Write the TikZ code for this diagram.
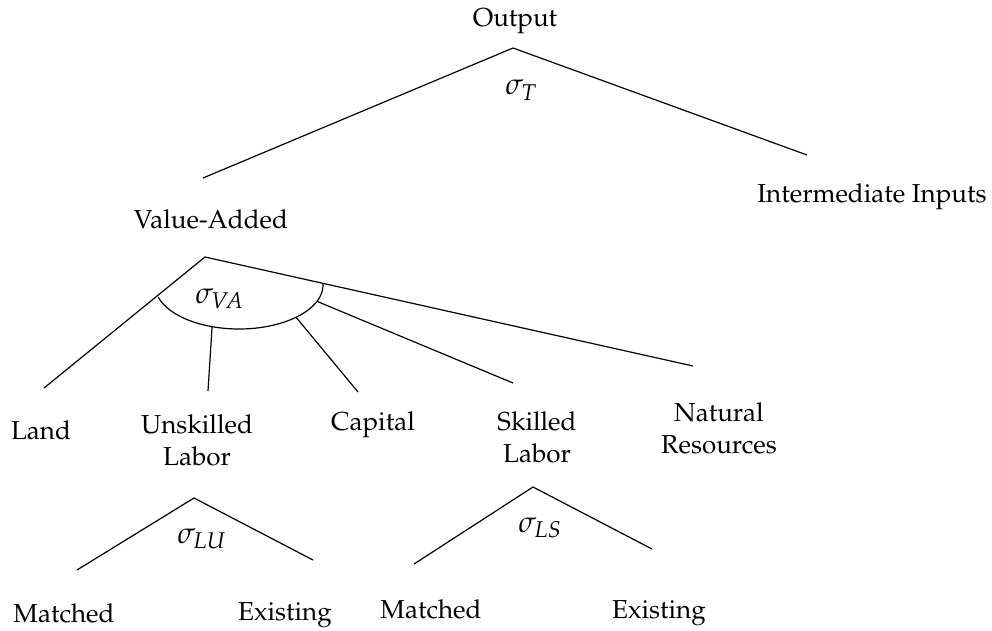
\documentclass[tikz,border=0pt]{standalone}
\usepackage[T1]{fontenc}
\usepackage{mathpazo}
\begin{document}
\begin{tikzpicture}[x=1pt,y=-1pt,line width=1.2pt,
  lbl/.style={font=\fontsize{26}{32}\selectfont, inner sep=0pt, align=center, anchor=base},
  sig/.style={font=\fontsize{30}{32}\selectfont, inner sep=0pt, anchor=base west}]
\useasboundingbox (0,0) rectangle (992,631);
% labels
\node[lbl] (out) at (515,27) {Output};
\node[lbl] (ii) at (872,202) {Intermediate Inputs};
\node[lbl] (va) at (211,228) {Value-Added};
\node[lbl] (land) at (41,439) {Land};
\node[lbl] (ul) at (197,465) {Unskilled\\Labor};
\node[lbl] (cap) at (373,430) {Capital};
\node[lbl] (sl) at (537,462) {Skilled\\Labor};
\node[lbl] (nr) at (719,453) {Natural\\Resources};
\node[lbl] (m1) at (64,622) {Matched};
\node[lbl] (e1) at (285,620) {Existing};
\node[lbl] (m2) at (431,618) {Matched};
\node[lbl] (e2) at (659,618) {Existing};
% sigmas
\node[sig] (sT) at (505,95) {$\sigma_{T}$};
\node[sig] (sVA) at (195,303) {$\sigma_{V\!A}$};
\node[sig] (sLU) at (177,543) {$\sigma_{LU}$};
\node[sig] (sLS) at (518,532) {$\sigma_{LS}$};
% top tree
\coordinate (topA) at (513,48);
\coordinate (topL) at (203,178);
\coordinate (topR) at (807,155);
\draw (topL) -- (topA) -- (topR);
% value added tree
\coordinate (vaA) at (205,257);
\coordinate (landE) at (44,388);
\coordinate (nrE) at (693,366);
\draw (landE) -- (vaA) -- (nrE);
\draw plot[domain=-1:164,samples=60,smooth] ({239+84*cos(\x)},{285+44*sin(\x)});
\coordinate (arcU) at ({239+84*cos(108.7)},{285+44*sin(108.7)});
\coordinate (arcC) at ({239+84*cos(47.2)},{285+44*sin(47.2)});
\coordinate (arcS) at ({239+84*cos(21.8)},{285+44*sin(21.8)});
\coordinate (ulE) at (208,391);
\coordinate (capE) at (358,392);
\coordinate (slE) at (513,383);
\draw (arcU) -- (ulE);
\draw (arcC) -- (capE);
\draw (arcS) -- (slE);
% unskilled tree
\coordinate (luA) at (194,498);
\coordinate (luL) at (77,570);
\coordinate (luR) at (313,560);
\draw (luL) -- (luA) -- (luR);
% skilled tree
\coordinate (lsA) at (533,487);
\coordinate (lsL) at (414,564);
\coordinate (lsR) at (652,549);
\draw (lsL) -- (lsA) -- (lsR);
\end{tikzpicture}
\end{document}
